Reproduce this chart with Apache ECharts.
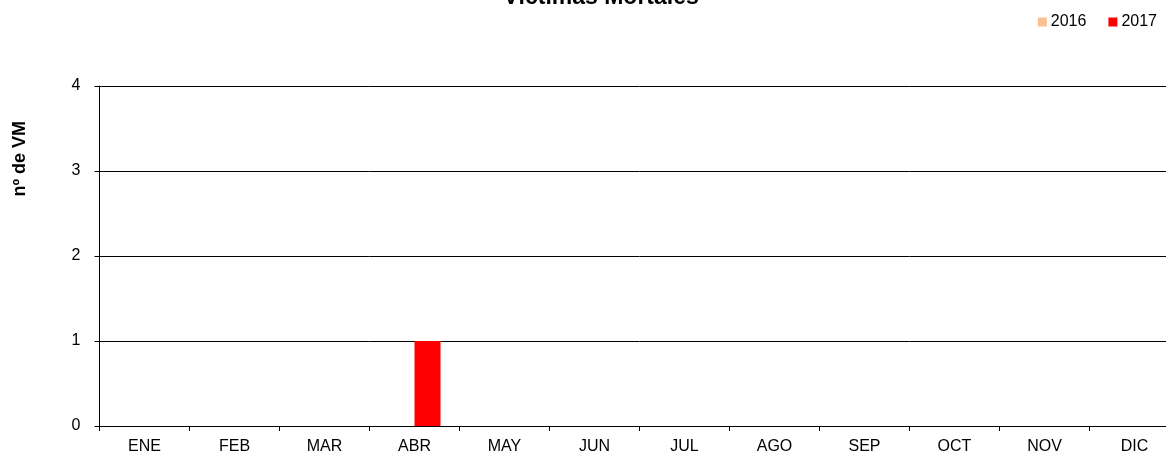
<!DOCTYPE html>
<html><head><meta charset="utf-8">
<script src="https://cdn.jsdelivr.net/npm/echarts@6/dist/echarts.min.js"></script>
<style>html,body{margin:0;padding:0;background:#fff;overflow:hidden;width:1166px;height:456px}#c{width:1200px;height:456px}</style>
</head><body><div id="c"></div>
<script>
const categories = ['ENE','FEB','MAR','ABR','MAY','JUN','JUL','AGO','SEP','OCT','NOV','DIC'];
const values2016 = [0,0,0,0,0,0,0,0,0,0,0,0];
const values2017 = [0,0,0,1,0,0,0,0,0,0,0,0];
const yTicks = [0,1,2,3,4];
const chart = echarts.init(document.getElementById('c'));
const font = 'Liberation Sans, Arial, sans-serif';
chart.setOption({
  animation: false,
  title: {text: 'Víctimas Mortales', left: 596, textAlign: 'center', top: -19,
    textStyle: {fontFamily: font, fontSize: 23, fontWeight: 'bold', color: '#000'}},
  legend: {right: 38, top: 9, itemWidth: 9, itemHeight: 9, itemGap: 22,
    textStyle: {fontFamily: font, fontSize: 16, color: '#000', padding: [0,0,0,-1]},
    data: [{name:'2016', icon:'rect'}, {name:'2017', icon:'rect'}]},
  grid: {left: 99.5, width: 1080, top: 86, bottom: 30, containLabel: false},
  graphic: [{type: 'text', left: 11, top: 121, rotation: Math.PI/2,
    style: {text: 'nº de VM', fontFamily: font, fontSize: 18, fontWeight: 'bold', fill: '#000'}}],
  xAxis: {type: 'category', data: categories,
    axisLine: {lineStyle: {color: '#000', width: 1}},
    axisTick: {show: true, length: 5, lineStyle: {color: '#000'}},
    axisLabel: {fontFamily: font, fontSize: 16, color: '#000', margin: 13}},
  yAxis: {type: 'value', min: 0, max: 4, interval: 1,
    axisLine: {show: true, lineStyle: {color: '#000'}},
    axisTick: {show: true, length: 5, lineStyle: {color: '#000'}},
    axisLabel: {fontFamily: font, fontSize: 16, color: '#000', margin: 19,
      formatter: v => yTicks.includes(v) ? String(v) : ''},
    splitLine: {lineStyle: {color: '#000', width: 1}}},
  series: [
    {name: '2016', type: 'bar', data: values2016, barWidth: 26, barGap: '0%', itemStyle: {color: '#FAC090'}},
    {name: '2017', type: 'bar', data: values2017, barWidth: 26, barGap: '0%', itemStyle: {color: '#FF0000'}}
  ]
});
</script></body></html>
